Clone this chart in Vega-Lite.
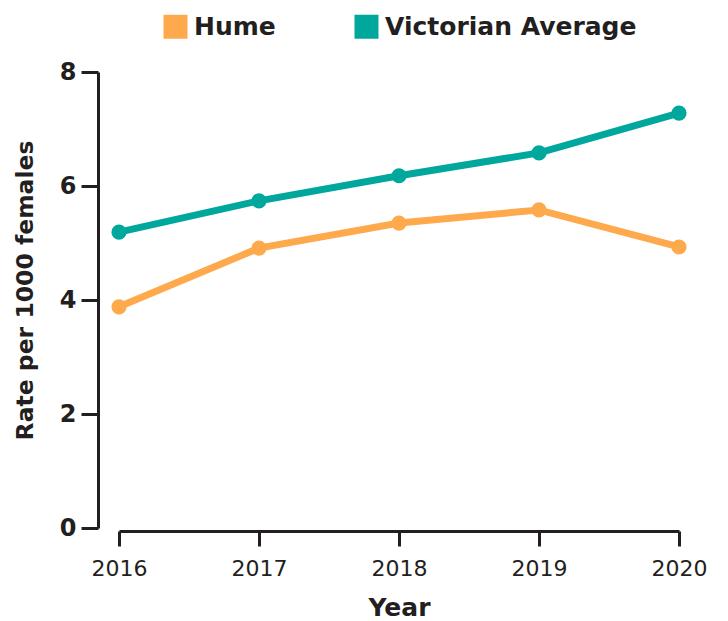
{
  "$schema": "https://vega.github.io/schema/vega-lite/v6.json",
  "autosize": {"type": "none"},
  "padding": {"left": 119, "top": 72, "right": 49, "bottom": 93},
  "width": 560,
  "height": 456,
  "background": "white",
  "config": {
    "view": {"stroke": null},
    "font": "DejaVu Sans"
  },
  "data": {
    "values": [
      {"year": "2016", "series": "Hume", "rate": 3.88},
      {"year": "2017", "series": "Hume", "rate": 4.91},
      {"year": "2018", "series": "Hume", "rate": 5.35},
      {"year": "2019", "series": "Hume", "rate": 5.58},
      {"year": "2020", "series": "Hume", "rate": 4.93},
      {"year": "2016", "series": "Victorian Average", "rate": 5.19},
      {"year": "2017", "series": "Victorian Average", "rate": 5.74},
      {"year": "2018", "series": "Victorian Average", "rate": 6.18},
      {"year": "2019", "series": "Victorian Average", "rate": 6.58},
      {"year": "2020", "series": "Victorian Average", "rate": 7.28}
    ]
  },
  "encoding": {
    "x": {
      "field": "year", "type": "ordinal",
      "scale": {"type": "point", "padding": 0},
      "axis": {
        "title": "Year", "labelAngle": 0, "offset": 3,
        "domainColor": "#231F20", "domainWidth": 3,
        "tickColor": "#231F20", "tickWidth": 3, "tickSize": 15,
        "labelFont": "DejaVu Sans", "labelFontSize": 22, "labelColor": "#231F20", "labelPadding": 12,
        "titleFont": "DejaVu Sans", "titleFontSize": 25, "titleFontWeight": "bold", "titleColor": "#231F20", "titlePadding": 16
      }
    },
    "y": {
      "field": "rate", "type": "quantitative",
      "scale": {"domain": [0, 8], "nice": false},
      "axis": {
        "title": "Rate per 1000 females", "values": [0, 2, 4, 6, 8], "grid": false, "offset": 21,
        "domainColor": "#231F20", "domainWidth": 3,
        "tickColor": "#231F20", "tickWidth": 3, "tickSize": 17,
        "labelFont": "DejaVu Sans", "labelFontSize": 24, "labelFontWeight": "bold", "labelColor": "#231F20", "labelPadding": 5,
        "titleFont": "DejaVu Sans", "titleFontSize": 23.5, "titleFontWeight": "bold", "titleColor": "#231F20", "titlePadding": 22,
        "titleY": 218
      }
    },
    "color": {
      "field": "series", "type": "nominal",
      "scale": {"domain": ["Hume", "Victorian Average"], "range": ["#FFA94D", "#00A79D"]},
      "legend": {
        "title": null, "orient": "none", "direction": "horizontal",
        "legendX": 44, "legendY": -58,
        "symbolType": "square", "symbolSize": 576, "symbolStrokeWidth": 0, "symbolOpacity": 1,
        "labelFont": "DejaVu Sans", "labelFontSize": 25, "labelFontWeight": "bold", "labelColor": "#231F20",
        "labelLimit": 0, "labelOffset": 6, "columnPadding": 78
      }
    }
  },
  "layer": [
    {"mark": {"type": "line", "strokeWidth": 7}},
    {"mark": {"type": "circle", "size": 230, "opacity": 1}}
  ]
}
